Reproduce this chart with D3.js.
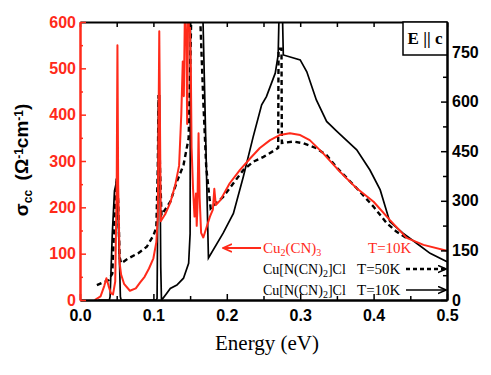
<!DOCTYPE html>
<html>
<head>
<meta charset="utf-8">
<script src="https://cdn.jsdelivr.net/npm/d3@7"></script>
<style>
  body { margin: 0; background: #fff; }
  text { font-family: 'Liberation Sans', Arial, sans-serif; }
  .serif { font-family: 'Liberation Serif', 'Times New Roman', serif; }
</style>
</head>
<body>
<svg width="491" height="375"></svg>
<script>
// Cu2(CN)3, T=10K (left axis)
const energyRed = [0.020, 0.028, 0.033, 0.036, 0.039, 0.042, 0.045, 0.048, 0.050, 0.051, 0.052, 0.054, 0.056, 0.060,
  0.068, 0.076, 0.082, 0.088, 0.094, 0.100, 0.104, 0.106, 0.108, 0.110, 0.116, 0.123, 0.130, 0.135, 0.138, 0.140,
  0.1415, 0.143, 0.145, 0.146, 0.1475, 0.149, 0.151, 0.152, 0.154, 0.156, 0.158, 0.159, 0.160, 0.1615, 0.163, 0.165,
  0.168, 0.172, 0.177, 0.181, 0.183, 0.185, 0.191, 0.204, 0.218, 0.232, 0.245, 0.259, 0.272, 0.286, 0.300, 0.313,
  0.331, 0.354, 0.377, 0.400, 0.422, 0.445, 0.468, 0.500];
const sigmaRed = [0, 8, 30, 47, 30, 15, 12, 40, 250, 550, 250, 80, 55, 35,
  20, 25, 38, 50, 68, 90, 125, 180, 580, 170, 185, 210, 250, 290, 400, 515,
  440, 640, 560, 380, 650, 650, 500, 330, 240, 180, 230, 160, 200, 360, 220, 145,
  135, 155, 180, 195, 240, 205, 215, 252, 281, 306, 328, 345, 356, 360, 356, 345,
  317, 277, 241, 212, 173, 134, 119, 106];

// Cu[N(CN)2]Cl, T=50K (right axis)
const energy50 = [0.023, 0.030, 0.039, 0.044, 0.047, 0.050, 0.052, 0.054, 0.056, 0.066, 0.079, 0.091, 0.100, 0.104,
  0.106, 0.107, 0.109, 0.111, 0.123, 0.132, 0.141, 0.148, 0.152, 0.163, 0.168, 0.172, 0.178, 0.195, 0.209, 0.2225,
  0.236, 0.250, 0.266, 0.270, 0.2705, 0.2745, 0.275, 0.291, 0.304, 0.322, 0.336, 0.350, 0.377, 0.400, 0.418, 0.431, 0.445];
const sigma50 = [45, 52, 60, 80, 250, 369, 300, 130, 111, 126, 141, 161, 195, 220,
  400, 620, 400, 257, 297, 358, 408, 489, 900, 900, 600, 400, 277, 312, 353, 393,
  418, 433, 454, 460, 760, 760, 475, 479, 474, 459, 438, 400, 338, 282, 232, 207, 187];

// Cu[N(CN)2]Cl, T=10K (right axis)
const energy10 = [0.025, 0.040, 0.041, 0.044, 0.047, 0.050, 0.052, 0.054, 0.055, 0.056, 0.104, 0.105, 0.106, 0.107,
  0.1085, 0.109, 0.110, 0.111, 0.113, 0.118, 0.123, 0.132, 0.141, 0.148, 0.150, 0.1505, 0.1665, 0.175, 0.195, 0.209,
  0.2225, 0.236, 0.2475, 0.254, 0.266, 0.270, 0.272, 0.275, 0.277, 0.300, 0.309, 0.322, 0.336, 0.350, 0.377, 0.395,
  0.409, 0.422, 0.440, 0.459, 0.477, 0.500];
const sigma10 = [0, 0, 10, 200, 330, 360, 250, 100, 10, 0, 0, 5, 300, 600,
  620, 400, 100, 0, 5, 20, 35, 45, 66, 111, 200, 950, 950, 127, 202, 262,
  373, 494, 590, 615, 686, 741, 950, 950, 741, 726, 690, 605, 540, 510, 454, 393,
  333, 237, 202, 171, 141, 116];

const xTicks = [0, 0.1, 0.2, 0.3, 0.4, 0.5];
const xMinor = [0.05, 0.15, 0.25, 0.35, 0.45];
const leftTicks = [0, 100, 200, 300, 400, 500, 600];
const leftMinor = [50, 150, 250, 350, 450, 550];
const rightTicks = [0, 150, 300, 450, 600, 750];
const rightMinor = [75, 225, 375, 525, 675];

const red = '#ff2a1a';
const svg = d3.select('svg');
const width = 491;
const height = 375;
const margin = { top: 22, right: 44, bottom: 75, left: 80 };
const innerRight = width - margin.right;
const innerBottom = height - margin.bottom;

svg.append('rect').attr('width', width).attr('height', height).attr('fill', '#fff');

const x = d3.scaleLinear().domain([0, 0.5]).range([margin.left, innerRight]);
const yL = d3.scaleLinear().domain([0, 600]).range([innerBottom, margin.top]);
const yR = d3.scaleLinear().domain([0, 840.7]).range([innerBottom, margin.top]);

svg.append('clipPath').attr('id', 'plot')
  .append('rect')
  .attr('x', margin.left).attr('y', margin.top)
  .attr('width', innerRight - margin.left).attr('height', innerBottom - margin.top);

const lines = svg.append('g').attr('clip-path', 'url(#plot)');

const lineL = d3.line().x(d => x(d[0])).y(d => yL(d[1]));
const lineR = d3.line().x(d => x(d[0])).y(d => yR(d[1]));

lines.append('path')
  .attr('d', lineR(d3.zip(energy50, sigma50)))
  .attr('fill', 'none').attr('stroke', '#000')
  .attr('stroke-width', 2.4).attr('stroke-dasharray', '5,3.5');

lines.append('path')
  .attr('d', lineR(d3.zip(energy10, sigma10)))
  .attr('fill', 'none').attr('stroke', '#000').attr('stroke-width', 1.7);

lines.append('path')
  .attr('d', lineL(d3.zip(energyRed, sigmaRed)))
  .attr('fill', 'none').attr('stroke', red).attr('stroke-width', 2)
  .attr('stroke-linejoin', 'round');

// axes
const styleAxis = (g, color) => {
  g.select('.domain').attr('stroke', color).attr('stroke-width', 2);
  g.selectAll('.tick line').attr('stroke', color).attr('stroke-width', 1.5);
  g.selectAll('.tick text')
    .attr('fill', color)
    .style('font-size', '16px')
    .style('font-weight', 'bold');
};

svg.append('g')
  .attr('transform', `translate(0,${margin.top})`)
  .call(d3.axisTop(x).tickValues(xTicks.concat(xMinor)).tickSize(-5).tickSizeOuter(0).tickFormat(''))
  .call(g => styleAxis(g, '#000'));

svg.append('g')
  .attr('transform', `translate(0,${innerBottom})`)
  .call(d3.axisBottom(x).tickValues(xMinor).tickSize(-4).tickSizeOuter(0).tickFormat(''))
  .call(g => styleAxis(g, '#000'));

svg.append('g')
  .attr('transform', `translate(0,${innerBottom})`)
  .call(d3.axisBottom(x).tickValues(xTicks).tickSize(-6).tickSizeOuter(0).tickPadding(10).tickFormat(d3.format('.1f')))
  .call(g => styleAxis(g, '#000'));

svg.append('g')
  .attr('transform', `translate(${innerRight},0)`)
  .call(d3.axisRight(yR).tickValues(rightMinor).tickSize(-4).tickSizeOuter(0).tickFormat(''))
  .call(g => styleAxis(g, '#000'));

svg.append('g')
  .attr('transform', `translate(${innerRight},0)`)
  .call(d3.axisRight(yR).tickValues(rightTicks).tickSize(-6).tickSizeOuter(0).tickPadding(5))
  .call(g => styleAxis(g, '#000'));

svg.append('g')
  .attr('transform', `translate(${margin.left},0)`)
  .call(d3.axisLeft(yL).tickValues(leftMinor).tickSize(-3).tickSizeOuter(0).tickFormat(''))
  .call(g => styleAxis(g, red));

svg.append('g')
  .attr('transform', `translate(${margin.left},0)`)
  .call(d3.axisLeft(yL).tickValues(leftTicks).tickSize(-6).tickSizeOuter(0).tickPadding(4))
  .call(g => styleAxis(g, red));

// axis titles
svg.append('text')
  .attr('class', 'serif')
  .attr('x', 267).attr('y', 350)
  .attr('text-anchor', 'middle')
  .style('font-size', '21px')
  .text('Energy (eV)');

const yTitle = svg.append('text')
  .attr('transform', 'translate(28,160) rotate(-90)')
  .attr('text-anchor', 'middle')
  .style('font-size', '19px')
  .style('font-weight', 'bold');
yTitle.append('tspan').text('σ');
yTitle.append('tspan').attr('baseline-shift', '-30%').style('font-size', '12px').text('cc');
yTitle.append('tspan').text('\u2002(Ω');
yTitle.append('tspan').attr('baseline-shift', '45%').style('font-size', '12px').text('-1');
yTitle.append('tspan').text('cm');
yTitle.append('tspan').attr('baseline-shift', '45%').style('font-size', '12px').text('-1');
yTitle.append('tspan').text(')');

// E || c box
svg.append('rect')
  .attr('x', 403).attr('y', margin.top)
  .attr('width', innerRight - 403).attr('height', 33)
  .attr('fill', '#fff').attr('stroke', '#000').attr('stroke-width', 1.5);
svg.append('text')
  .attr('class', 'serif')
  .attr('x', 425).attr('y', 44)
  .attr('text-anchor', 'middle')
  .style('font-size', '17px').style('font-weight', 'bold')
  .text('E || c');

// legend labels and arrows
svg.append('defs').selectAll('marker')
  .data([['arrRed', red], ['arrBlack', '#000']])
  .enter()
  .append('marker')
  .attr('id', d => d[0])
  .attr('viewBox', '0 0 10 10')
  .attr('refX', 9).attr('refY', 5)
  .attr('markerWidth', 5).attr('markerHeight', 5)
  .attr('markerUnits', 'userSpaceOnUse')
  .attr('orient', 'auto')
  .append('path')
  .attr('d', 'M0,1L9,5L0,9')
  .attr('fill', 'none')
  .attr('stroke', d => d[1])
  .attr('stroke-width', 1.8);

svg.select('#arrRed').attr('markerWidth', 10).attr('markerHeight', 10);
svg.select('#arrBlack').attr('markerWidth', 9).attr('markerHeight', 9);

svg.append('line')
  .attr('x1', 261).attr('y1', 248).attr('x2', 223).attr('y2', 248)
  .attr('stroke', red).attr('stroke-width', 2).attr('marker-end', 'url(#arrRed)');

const redLabel = svg.append('text')
  .attr('class', 'serif')
  .attr('x', 263).attr('y', 253)
  .attr('fill', red)
  .style('font-size', '15px');
redLabel.append('tspan').text('Cu');
redLabel.append('tspan').attr('baseline-shift', '-25%').style('font-size', '10px').text('2');
redLabel.append('tspan').text('(CN)');
redLabel.append('tspan').attr('baseline-shift', '-25%').style('font-size', '10px').text('3');

svg.append('text')
  .attr('class', 'serif')
  .attr('x', 368).attr('y', 253)
  .attr('fill', red)
  .style('font-size', '15px')
  .text('T=10K');

const blackRows = [['T=50K', 274, '4,3'], ['T=10K', 295, null]];
blackRows.forEach(([label, yy, dash]) => {
  const t = svg.append('text')
    .attr('class', 'serif')
    .attr('x', 263).attr('y', yy)
    .style('font-size', '14px');
  t.append('tspan').text('Cu[N(CN)');
  t.append('tspan').attr('baseline-shift', '-25%').style('font-size', '10px').text('2');
  t.append('tspan').text(']Cl');
  svg.append('text')
    .attr('class', 'serif')
    .attr('x', 357).attr('y', yy)
    .style('font-size', '15px')
    .text(label);
  svg.append('line')
    .attr('x1', 406).attr('y1', yy - 5).attr('x2', 446).attr('y2', yy - 5)
    .attr('stroke', '#000')
    .attr('stroke-width', dash ? 2.4 : 1.5)
    .attr('stroke-dasharray', dash)
    .attr('marker-end', 'url(#arrBlack)');
});
</script>
</body>
</html>
